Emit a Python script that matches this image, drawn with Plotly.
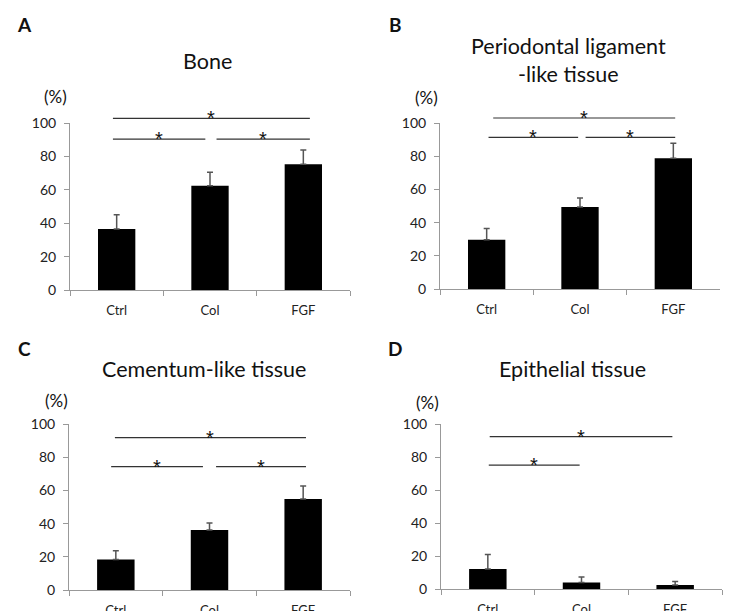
import plotly.graph_objects as go

categories = ["Ctrl", "Col", "FGF"]

panel_letters = ["A", "B", "C", "D"]
panel_titles = ["Bone", "Periodontal ligament<br>-like tissue", "Cementum-like tissue", "Epithelial tissue"]

bone_mean = [36.5, 62.5, 75.3]
bone_err = [8.5, 8.0, 8.5]
pdl_mean = [29.6, 49.4, 78.8]
pdl_err = [6.8, 5.4, 9.0]
cem_mean = [18.3, 36.1, 54.8]
cem_err = [5.4, 4.3, 7.9]
epi_mean = [12.1, 4.0, 2.4]
epi_err = [8.8, 3.2, 2.2]

y_ticks = [0, 20, 40, 60, 80, 100]

# significance brackets: (start category pos, end category pos, level)
bone_sig = [(-0.04, 2.07, 102.8), (-0.04, 0.95, 90.4), (1.07, 2.07, 90.4)]
pdl_sig = [(0.07, 2.02, 103.0), (0.02, 0.98, 91.4), (1.06, 2.02, 91.4)]
cem_sig = [(-0.01, 2.03, 91.8), (-0.05, 0.93, 74.3), (1.07, 2.03, 74.3)]
epi_sig = [(0.02, 1.97, 92.4), (0.01, 0.98, 75.1)]

means = [bone_mean, pdl_mean, cem_mean, epi_mean]
errs = [bone_err, pdl_err, cem_err, epi_err]
sigs = [bone_sig, pdl_sig, cem_sig, epi_sig]

W, H = 741, 611
FONT = "Lato"

# plot-area pixel boxes (left, right, top, bottom)
boxes = [(70, 350, 123, 290), (440, 720, 123, 289), (69, 350, 424, 590), (441, 722, 424, 589)]
title_pos = [(207, 61), (568, 60), (204, 369), (572, 369)]
pct_pos = [(55, 96), (426, 97), (56, 400), (427, 402)]
letter_pos = [(24, 25), (395, 25), (24, 348), (395, 348)]

fig = go.Figure()
layout = dict(
    width=W, height=H, margin=dict(l=0, r=0, t=0, b=0, autoexpand=False),
    paper_bgcolor="white", plot_bgcolor="white", showlegend=False,
    font=dict(family=FONT, color="#222"),
)
shapes = []
annotations = []

for i in range(4):
    n = "" if i == 0 else str(i + 1)
    xa, ya = "x" + n, "y" + n
    fig.add_trace(go.Bar(
        x=categories, y=means[i], xaxis=xa, yaxis=ya,
        marker=dict(color="black", line=dict(width=0)), width=0.4,
        error_y=dict(type="data", array=errs[i], arrayminus=[0] * 3, symmetric=False,
                     color="#555", thickness=1.5, width=3),
    ))
    l, r, t, b = boxes[i]
    layout["xaxis" + n] = dict(
        domain=[l / W, r / W], anchor=ya, range=[-0.5, 2.5], automargin=False,
        showline=True, linecolor="#999", linewidth=1, ticks="outside", tickson="boundaries",
        ticklen=5, tickcolor="#999", showgrid=False, tickfont=dict(size=13, color="#222"),
        ticklabelstandoff=8, fixedrange=True,
    )
    layout["yaxis" + n] = dict(
        domain=[1 - b / H, 1 - t / H], anchor=xa, range=[0, 100], automargin=False,
        tickvals=y_ticks, showline=True, linecolor="#999", linewidth=1, ticks="outside",
        ticklen=5, tickcolor="#999", showgrid=False, zeroline=False,
        tickfont=dict(size=14, color="#222"), ticklabelstandoff=5,
    )
    for (x0, x1, lv) in sigs[i]:
        shapes.append(dict(
            type="line", xref=xa + " domain", yref=ya + " domain",
            x0=(x0 + 0.5) / 3, x1=(x1 + 0.5) / 3, y0=lv / 100, y1=lv / 100,
            line=dict(color="#333", width=1.2),
        ))
        annotations.append(dict(
            xref=xa + " domain", yref=ya + " domain", x=((x0 + x1) / 2 + 0.5) / 3, y=lv / 100,
            text="*", showarrow=False, xanchor="center", yanchor="middle",
            font=dict(size=20, color="#111", family="Liberation Sans"),
        ))
    tx, ty = title_pos[i]
    annotations.append(dict(xref="paper", yref="paper", x=tx / W, y=1 - ty / H, text=panel_titles[i],
                            showarrow=False, xanchor="center", yanchor="middle",
                            font=dict(size=21.5, color="#111")))
    px, py = pct_pos[i]
    annotations.append(dict(xref="paper", yref="paper", x=px / W, y=1 - py / H, text="(%)",
                            showarrow=False, xanchor="center", yanchor="middle",
                            font=dict(size=17, color="#111")))
    lx, ly = letter_pos[i]
    annotations.append(dict(xref="paper", yref="paper", x=lx / W, y=1 - ly / H, text="<b>" + panel_letters[i] + "</b>",
                            showarrow=False, xanchor="center", yanchor="middle",
                            font=dict(size=19, color="#111")))

layout["shapes"] = shapes
layout["annotations"] = annotations
fig.update_layout(**layout)
fig.write_html("out.html", config={"displayModeBar": False},
               post_script="document.body.style.margin='0';")
